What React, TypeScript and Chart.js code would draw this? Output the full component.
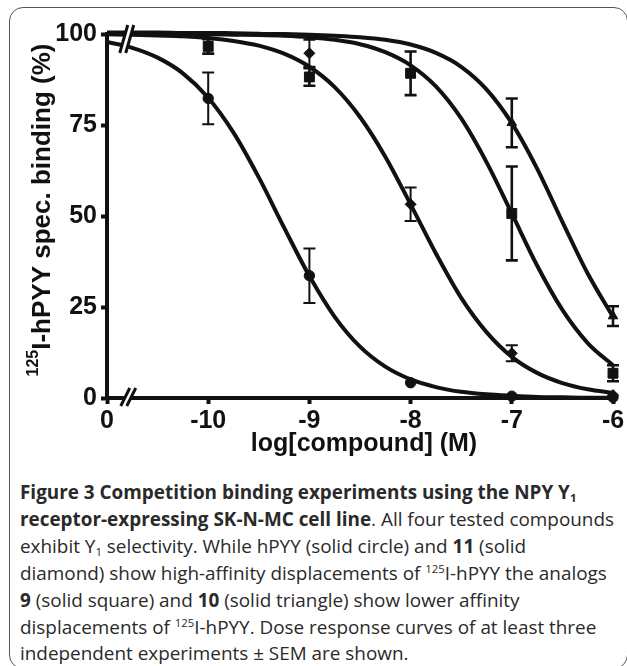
import React, { useEffect, useRef } from "react";
import { Chart, registerables } from "chart.js";

Chart.register(...registerables);

// x positions (log[compound]); -11 stands for the "0" (no compound) position
const xTicks = [-11, -10, -9, -8, -7, -6];
const xTickLabels = ["0", "-10", "-9", "-8", "-7", "-6"];
const yTicks = [0, 25, 50, 75, 100];

// fitted curves
const curveX = [-11, -10.75, -10.5, -10.25, -10, -9.75, -9.5, -9.25, -9, -8.75, -8.5, -8.25, -8, -7.75, -7.5, -7.25, -7, -6.75, -6.5, -6.25, -6];
const hpyyCurve = [97.8, 96.2, 93.5, 89.2, 82.5, 72.9, 60.6, 46.8, 33.5, 22.3, 14.1, 8.6, 5.1, 3.0, 1.7, 1.0, 0.6, 0.3, 0.2, 0.1, 0.1];
const cpd11Curve = [99.9, 99.8, 99.6, 99.4, 98.9, 98.1, 96.8, 94.6, 91.0, 85.4, 77.2, 66.3, 53.2, 39.7, 27.5, 18.1, 11.3, 6.9, 4.1, 2.4, 1.4];
const cpd9Curve = [100, 100, 100, 99.9, 99.9, 99.8, 99.7, 99.5, 99.1, 98.4, 97.2, 95.0, 91.4, 85.6, 76.8, 64.8, 50.7, 36.4, 24.2, 15.1, 9.0];
const cpd10Curve = [100.4, 100.4, 100.4, 100.3, 100.3, 100.2, 100.1, 100, 99.8, 99.5, 99.1, 98.4, 97.1, 94.8, 91.0, 84.8, 75.5, 63.0, 48.4, 34.2, 22.3];

// measured points (mean ± SEM); null = hidden under the curves at 100 %
const doseX = [-10, -9, -8, -7, -6];
const hpyyMean = [82.3, 33.6, 4.2, 0.5, 0.2];
const hpyySem = [7.1, 7.5, 0, 0, 0];
const cpd11Mean = [null, 94.7, 53.2, 12.3, 0.8];
const cpd11Sem = [0, 3.7, 4.6, 2.2, 0];
const cpd9Mean = [96.6, 88.2, 89.2, 50.7, 6.8];
const cpd9Sem = [2.0, 2.4, 6.0, 12.9, 2.2];
const cpd10Mean = [null, null, null, 75.6, 22.5];
const cpd10Sem = [0, 0, 0, 6.7, 2.7];

const INK = "#111111";

const toPts = (xs: number[], ys: (number | null)[]) => xs.map((x, i) => ({ x, y: ys[i] }));

export default function App() {
  const ref = useRef<HTMLCanvasElement | null>(null);

  useEffect(() => {
    document.body.style.margin = "0";
    const canvas = ref.current;
    if (!canvas) return;

    const errSets = [
      { mean: hpyyMean, sem: hpyySem, w: 2 },
      { mean: cpd11Mean, sem: cpd11Sem, w: 2 },
      { mean: cpd9Mean, sem: cpd9Sem, w: 2.6 },
      { mean: cpd10Mean, sem: cpd10Sem, w: 2.6 },
    ];

    const extras = {
      id: "extras",
      afterDatasetsDraw(chart: any) {
        const { ctx, scales } = chart;
        const xs = scales.x;
        const ys = scales.y;
        ctx.save();
        // error bars
        ctx.strokeStyle = INK;
        errSets.forEach((s) => {
          ctx.lineWidth = s.w;
          doseX.forEach((x, i) => {
            const e = s.sem[i];
            const m = s.mean[i];
            if (!e || m === null) return;
            const px = xs.getPixelForValue(x);
            const top = ys.getPixelForValue(Math.min(100, m + e));
            const bot = ys.getPixelForValue(m - e);
            ctx.beginPath();
            ctx.moveTo(px, top);
            ctx.lineTo(px, bot);
            ctx.moveTo(px - 6, top);
            ctx.lineTo(px + 6, top);
            ctx.moveTo(px - 6, bot);
            ctx.lineTo(px + 6, bot);
            ctx.stroke();
          });
        });
        // axis break marks
        const breaks = [
          { cx: xs.getPixelForValue(-10.805), cy: ys.getPixelForValue(100) + 5, h: 28, dx: 8 },
          { cx: xs.getPixelForValue(-10.79), cy: ys.getPixelForValue(0) - 1, h: 18, dx: 9 },
        ];
        breaks.forEach((b) => {
          const gap = 6;
          ctx.fillStyle = "#ffffff";
          ctx.beginPath();
          ctx.moveTo(b.cx - gap / 2 - b.dx / 2, b.cy + b.h / 2 - 2);
          ctx.lineTo(b.cx - gap / 2 + b.dx / 2, b.cy - b.h / 2 + 2);
          ctx.lineTo(b.cx + gap / 2 + b.dx / 2, b.cy - b.h / 2 + 2);
          ctx.lineTo(b.cx + gap / 2 - b.dx / 2, b.cy + b.h / 2 - 2);
          ctx.closePath();
          ctx.fill();
          ctx.strokeStyle = INK;
          ctx.lineWidth = 3;
          [-gap / 2, gap / 2].forEach((o) => {
            ctx.beginPath();
            ctx.moveTo(b.cx + o - b.dx / 2, b.cy + b.h / 2);
            ctx.lineTo(b.cx + o + b.dx / 2, b.cy - b.h / 2);
            ctx.stroke();
          });
        });
        // axis titles
        ctx.fillStyle = INK;
        ctx.textBaseline = "middle";
        ctx.textAlign = "center";
        ctx.font = "bold 25px 'Liberation Sans', Arial, sans-serif";
        ctx.fillText("log[compound] (M)", 364, 444);

        ctx.translate(42, 210);
        ctx.rotate(-Math.PI / 2);
        const supFont = "bold 16px 'Liberation Sans', Arial, sans-serif";
        const mainFont = "bold 26px 'Liberation Sans', Arial, sans-serif";
        ctx.font = supFont;
        const supW = ctx.measureText("125").width;
        ctx.font = mainFont;
        const mainText = "I-hPYY spec. binding (%)";
        const mainW = ctx.measureText(mainText).width;
        const start = -(supW + mainW) / 2;
        ctx.textAlign = "left";
        ctx.font = supFont;
        ctx.fillText("125", start, -8);
        ctx.font = mainFont;
        ctx.fillText(mainText, start + supW, 1);
        ctx.restore();
      },
    };

    const curveDs = (data: number[]) => ({
      type: "line" as const,
      data: toPts(curveX, data),
      borderColor: INK,
      borderWidth: 4,
      pointRadius: 0,
      fill: false,
      cubicInterpolationMode: "monotone" as const,
      clip: false as any,
      order: 2,
    });
    const markDs = (mean: (number | null)[], style: string, r: number) => ({
      type: "scatter" as const,
      data: toPts(doseX, mean),
      pointStyle: style,
      pointRadius: r,
      backgroundColor: INK,
      borderColor: INK,
      borderWidth: 1,
      showLine: false,
      clip: false as any,
      order: 1,
    });

    const chart = new Chart(canvas, {
      type: "line",
      data: {
        datasets: [
          curveDs(hpyyCurve),
          curveDs(cpd11Curve),
          curveDs(cpd9Curve),
          curveDs(cpd10Curve),
          markDs(hpyyMean, "circle", 5.2),
          markDs(cpd11Mean, "rectRot", 5.5),
          markDs(cpd9Mean, "rect", 7),
          markDs(cpd10Mean, "triangle", 5.5),
        ] as any,
      },
      options: {
        responsive: false,
        animation: false,
        devicePixelRatio: 1,
        layout: { padding: { left: 10, top: 34, right: 14, bottom: 0 } },
        plugins: { legend: { display: false }, tooltip: { enabled: false }, title: { display: false } },
        scales: {
          x: {
            type: "linear",
            min: -11,
            max: -6,
            afterFit: (s: any) => {
              s.height = 72;
            },
            afterBuildTicks: (s: any) => {
              s.ticks = xTicks.map((v) => ({ value: v }));
            },
            ticks: {
              callback: (v: any) => xTickLabels[xTicks.indexOf(Number(v))] ?? "",
              color: INK,
              font: { family: "'Liberation Sans', Arial, sans-serif", size: 25, weight: "bold" },
              padding: 2,
              maxRotation: 0,
              autoSkip: false,
            },
            grid: { display: true, drawOnChartArea: false, drawTicks: true, tickLength: 6, tickWidth: 4, tickColor: INK },
            border: { display: true, color: INK, width: 4 },
          },
          y: {
            type: "linear",
            min: 0,
            max: 100,
            afterFit: (s: any) => {
              s.width = 97;
            },
            afterBuildTicks: (s: any) => {
              s.ticks = yTicks.map((v) => ({ value: v }));
            },
            ticks: {
              color: INK,
              font: { family: "'Liberation Sans', Arial, sans-serif", size: 25, weight: "bold" },
              padding: 4,
              autoSkip: false,
            },
            grid: { display: true, drawOnChartArea: false, drawTicks: true, tickLength: 6, tickWidth: 4, tickColor: INK },
            border: { display: true, color: INK, width: 4 },
          },
        },
      },
      plugins: [extras],
    });

    return () => chart.destroy();
  }, []);

  const capFont = "'Open Sans', 'Noto Sans', sans-serif";
  const lineStyle = (top: number): React.CSSProperties => ({
    position: "absolute",
    left: 20,
    top,
    whiteSpace: "nowrap",
    fontFamily: capFont,
    fontSize: 18.9,
    lineHeight: "20px",
    color: "#2a2a2a",
  });
  const sub: React.CSSProperties = { fontSize: "0.6em", verticalAlign: "-0.25em", lineHeight: 0 };
  const sup: React.CSSProperties = { fontSize: "0.6em", verticalAlign: "0.6em", lineHeight: 0 };

  const captionTop = 482;
  const lh = 26.9;

  return (
    <div style={{ position: "relative", width: 627, height: 666, overflow: "hidden", background: "#fff" }}>
      <div
        style={{
          position: "absolute",
          left: 9,
          top: 7,
          width: 619,
          height: 662,
          border: "1.5px solid #555",
          borderRadius: 14,
          boxSizing: "border-box",
        }}
      />
      <canvas ref={ref} width={627} height={470} style={{ position: "absolute", left: 0, top: 0 }} />
      <div style={lineStyle(captionTop)}>
        <b>Figure 3 Competition binding experiments using the NPY Y<span style={sub}>1</span></b>
      </div>
      <div style={lineStyle(captionTop + lh)}>
        <b>receptor-expressing SK-N-MC cell line</b>. All four tested compounds
      </div>
      <div style={lineStyle(captionTop + lh * 2)}>
        exhibit Y<span style={sub}>1</span> selectivity. While hPYY (solid circle) and <b>11</b> (solid
      </div>
      <div style={lineStyle(captionTop + lh * 3)}>
        diamond) show high-affinity displacements of <span style={sup}>125</span>I-hPYY the analogs
      </div>
      <div style={lineStyle(captionTop + lh * 4)}>
        <b>9</b> (solid square) and <b>10</b> (solid triangle) show lower affinity
      </div>
      <div style={lineStyle(captionTop + lh * 5)}>
        displacements of <span style={sup}>125</span>I-hPYY. Dose response curves of at least three
      </div>
      <div style={lineStyle(captionTop + lh * 6)}>independent experiments ± SEM are shown.</div>
    </div>
  );
}
